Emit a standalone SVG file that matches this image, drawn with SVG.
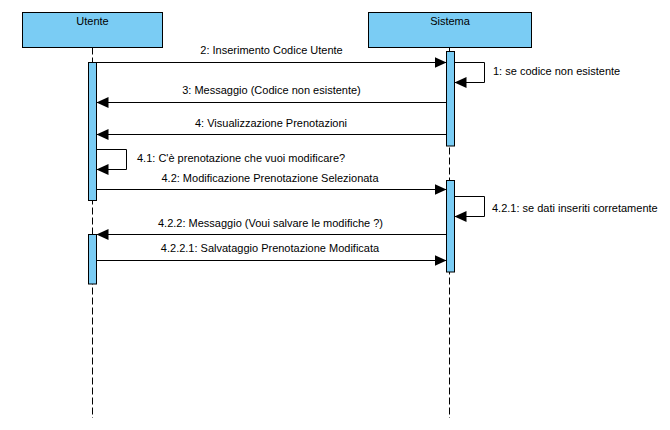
<svg xmlns="http://www.w3.org/2000/svg" width="670" height="430" viewBox="0 0 670 430">
<style>
.lbl{font-family:"Liberation Sans",Arial,sans-serif;font-size:11px;fill:#000}
.c{text-anchor:middle}
.box{fill:#7ACCF4;stroke:#000;stroke-width:1}
.life{stroke:#000;stroke-width:1;stroke-dasharray:7 3;fill:none}
.msg{stroke:#000;stroke-width:1;fill:none}
</style>
<defs>
<marker id="ah" markerUnits="userSpaceOnUse" markerWidth="13" markerHeight="12" refX="12" refY="5.5" orient="auto">
<path d="M0,0 L12,5.5 L0,11 z" fill="#000"/>
</marker>
</defs>
<rect width="670" height="430" fill="#fff"/>
<g id="utente">
<line class="life" x1="92.5" y1="47.5" x2="92.5" y2="418"/>
<rect class="box" x="22.5" y="12.5" width="140" height="35"/>
<text class="lbl c" x="92.5" y="24.5">Utente</text>
<rect class="box" x="88.5" y="62.5" width="8" height="138"/>
<rect class="box" x="88.5" y="234.5" width="8" height="49.5"/>
</g>
<g id="sistema">
<line class="life" x1="449.5" y1="47.5" x2="449.5" y2="418"/>
<rect class="box" x="368.5" y="12.5" width="163" height="35"/>
<text class="lbl c" x="450" y="24.5">Sistema</text>
<rect class="box" x="446.5" y="51.5" width="8" height="94.5"/>
<rect class="box" x="446.5" y="180.5" width="8" height="91.5"/>
</g>
<g id="connectors">
<line class="msg" x1="96.5" y1="62.5" x2="446.5" y2="62.5" marker-end="url(#ah)"/>
<text class="lbl c" x="271.5" y="54">2: Inserimento Codice Utente</text>
<polyline class="msg" points="454.5,62.5 484.5,62.5 484.5,82.5 454.5,82.5" marker-end="url(#ah)"/>
<text class="lbl" x="493" y="74.5">1: se codice non esistente</text>
<line class="msg" x1="446.5" y1="102.5" x2="96.5" y2="102.5" marker-end="url(#ah)"/>
<text class="lbl c" x="271.5" y="94">3: Messaggio (Codice non esistente)</text>
<line class="msg" x1="446.5" y1="134.5" x2="96.5" y2="134.5" marker-end="url(#ah)"/>
<text class="lbl c" x="271" y="126.5">4: Visualizzazione Prenotazioni</text>
<polyline class="msg" points="96.5,149.5 126.5,149.5 126.5,169.5 96.5,169.5" marker-end="url(#ah)"/>
<text class="lbl" x="137" y="162">4.1: C'è prenotazione che vuoi modificare?</text>
<line class="msg" x1="96.5" y1="189.5" x2="446.5" y2="189.5" marker-end="url(#ah)"/>
<text class="lbl c" x="270" y="182">4.2: Modificazione Prenotazione Selezionata</text>
<polyline class="msg" points="454.5,196.5 484.5,196.5 484.5,216.5 454.5,216.5" marker-end="url(#ah)"/>
<text class="lbl" x="492" y="211.5">4.2.1: se dati inseriti corretamente</text>
<line class="msg" x1="446.5" y1="234.5" x2="96.5" y2="234.5" marker-end="url(#ah)"/>
<text class="lbl c" x="270.5" y="227">4.2.2: Messaggio (Voui salvare le modifiche ?)</text>
<line class="msg" x1="96.5" y1="260.5" x2="446.5" y2="260.5" marker-end="url(#ah)"/>
<text class="lbl c" x="270" y="252">4.2.2.1: Salvataggio Prenotazione Modificata</text>
</g>
</svg>
